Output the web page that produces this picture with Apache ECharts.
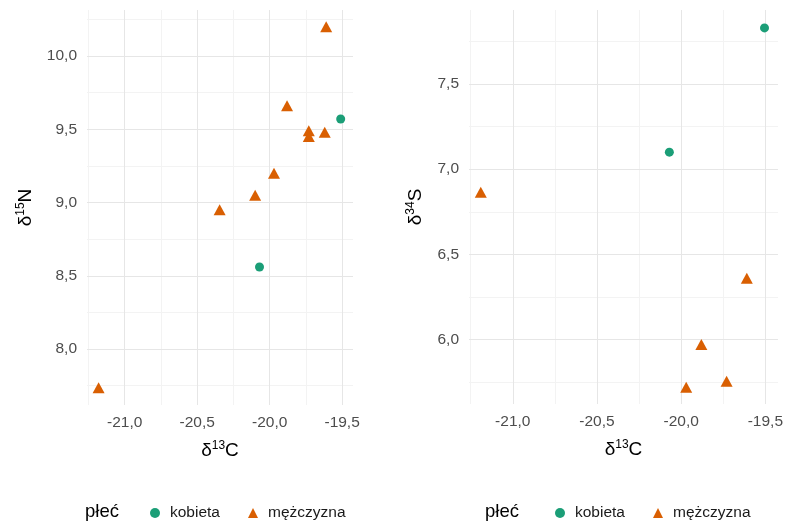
<!DOCTYPE html>
<html>
<head>
<meta charset="utf-8">
<script src="https://cdn.jsdelivr.net/npm/echarts@6/dist/echarts.min.js"></script>
<style>
html,body{margin:0;padding:0;background:#fff;}
#chart{width:786px;height:521px;}
</style>
</head>
<body>
<div id="chart"></div>
<script>
// ---- data ----
const legendLabels = ['kobieta', 'mężczyzna'];
// left panel: δ13C vs δ15N
const leftKobietaC = [-19.51, -20.07];
const leftKobietaN = [9.57, 8.56];
const leftMezczyznaC = [-19.61, -19.88, -19.73, -19.73, -19.62, -19.97, -20.10, -20.345, -21.18];
const leftMezczyznaN = [10.20, 9.66, 9.49, 9.45, 9.48, 9.20, 9.05, 8.95, 7.735];
// right panel: δ13C vs δ34S
const rightKobietaC = [-19.505, -20.07];
const rightKobietaS = [7.83, 7.10];
const rightMezczyznaC = [-21.19, -19.61, -19.88, -19.73, -19.97];
const rightMezczyznaS = [6.865, 6.36, 5.97, 5.755, 5.72];
// gridline positions (ticks)
const xMajor = [-21.0, -20.5, -20.0, -19.5];
const xMinor = [-21.25, -20.75, -20.25, -19.75];
const leftYMajor = [8.0, 8.5, 9.0, 9.5, 10.0];
const leftYMinor = [7.75, 8.25, 8.75, 9.25, 9.75, 10.25];
const rightYMajor = [6.0, 6.5, 7.0, 7.5];
const rightYMinor = [5.75, 6.25, 6.75, 7.25, 7.75];

const zip = (a, b) => a.map((v, i) => [v, b[i]]);
const FONT = '"Liberation Sans", Arial, sans-serif';
const GREEN = '#1b9e77', ORANGE = '#d95f02';
const MAJ = '#e6e6e6', MIN = '#f3f3f3';

function fmt(v) {
  if (Math.abs(v * 2 - Math.round(v * 2)) > 1e-6) return '';
  return v.toFixed(1).replace('.', ',');
}
function gridLines(xs, xm, ys, ym) {
  const d = [];
  xm.forEach(v => d.push({xAxis: v, lineStyle: {color: MIN, width: 1, type: 'solid'}}));
  ym.forEach(v => d.push({yAxis: v, lineStyle: {color: MIN, width: 1, type: 'solid'}}));
  xs.forEach(v => d.push({xAxis: v, lineStyle: {color: MAJ, width: 1, type: 'solid'}}));
  ys.forEach(v => d.push({yAxis: v, lineStyle: {color: MAJ, width: 1, type: 'solid'}}));
  return {silent: true, symbol: 'none', label: {show: false}, z: 1, animation: false, data: d};
}
const richName = () => ({
  d: {fontSize: 19, lineHeight: 20, color: '#000', fontFamily: FONT, verticalAlign: 'bottom', padding: [5, 0, 0, 0]},
  s: {fontSize: 12, lineHeight: 12, color: '#000', fontFamily: FONT, verticalAlign: 'top'}
});
function xAxisDef(idx) {
  return {
    type: 'value', gridIndex: idx, min: -21.26, max: -19.425,
    splitNumber: 4, minInterval: 0.5, maxInterval: 0.5,
    name: '{d|δ}{s|13}{d|C}', nameLocation: 'middle', nameGap: 30,
    nameTextStyle: {rich: richName()},
    axisLine: {show: false}, axisTick: {show: false}, splitLine: {show: false},
    axisLabel: {formatter: fmt, color: '#4d4d4d', fontSize: 15.5, fontFamily: FONT, margin: 10}
  };
}
function yAxisDef(idx, min, max, sup, letter, gap) {
  return {
    type: 'value', gridIndex: idx, min: min, max: max,
    splitNumber: 4, minInterval: 0.5, maxInterval: 0.5,
    name: '{d|δ}{s|' + sup + '}{d|' + letter + '}', nameLocation: 'middle', nameGap: gap, nameRotate: 90,
    nameTextStyle: {rich: richName()},
    axisLine: {show: false}, axisTick: {show: false}, splitLine: {show: false},
    axisLabel: {formatter: fmt, color: '#4d4d4d', fontSize: 15.5, fontFamily: FONT, margin: 10}
  };
}
const circleStyle = {symbol: 'circle', symbolSize: 9, itemStyle: {color: GREEN, opacity: 1}};
const triStyle = {symbol: 'triangle', symbolSize: [12, 11], itemStyle: {color: ORANGE, opacity: 1}};

const legendCommon = {
  data: legendLabels, top: 505, padding: 0, itemWidth: 10, itemHeight: 10, itemGap: 28, selectedMode: false,
  itemStyle: {opacity: 1},
  textStyle: {fontSize: 15.5, color: '#1a1a1a', fontFamily: FONT, padding: [0, 0, 0, 5]}
};

const chart = echarts.init(document.getElementById('chart'), null, {renderer: 'canvas'});
chart.setOption({
  animation: false,
  backgroundColor: '#ffffff',
  textStyle: {fontFamily: FONT},
  grid: [
    {left: 87, top: 10, width: 266, height: 395},
    {left: 469, top: 10, width: 311, height: 394}
  ],
  xAxis: [xAxisDef(0), xAxisDef(1)],
  yAxis: [
    yAxisDef(0, 7.618, 10.314, '15', 'N', 52),
    yAxisDef(1, 5.621, 7.935, '34', 'S', 44)
  ],
  title: [
    {text: 'płeć', left: 85, top: 502, padding: 0, textStyle: {fontSize: 18.5, fontWeight: 'normal', color: '#000', fontFamily: FONT}},
    {text: 'płeć', left: 485, top: 502, padding: 0, textStyle: {fontSize: 18.5, fontWeight: 'normal', color: '#000', fontFamily: FONT}}
  ],
  legend: [
    Object.assign({left: 150}, legendCommon),
    Object.assign({left: 555}, legendCommon)
  ],
  series: [
    Object.assign({type: 'scatter', name: legendLabels[0], xAxisIndex: 0, yAxisIndex: 0, z: 3,
      data: zip(leftKobietaC, leftKobietaN), markLine: gridLines(xMajor, xMinor, leftYMajor, leftYMinor)}, circleStyle),
    Object.assign({type: 'scatter', name: legendLabels[1], xAxisIndex: 0, yAxisIndex: 0, z: 3,
      data: zip(leftMezczyznaC, leftMezczyznaN)}, triStyle),
    Object.assign({type: 'scatter', name: legendLabels[0], xAxisIndex: 1, yAxisIndex: 1, z: 3,
      data: zip(rightKobietaC, rightKobietaS), markLine: gridLines(xMajor, xMinor, rightYMajor, rightYMinor)}, circleStyle),
    Object.assign({type: 'scatter', name: legendLabels[1], xAxisIndex: 1, yAxisIndex: 1, z: 3,
      data: zip(rightMezczyznaC, rightMezczyznaS)}, triStyle)
  ]
});
</script>
</body>
</html>
